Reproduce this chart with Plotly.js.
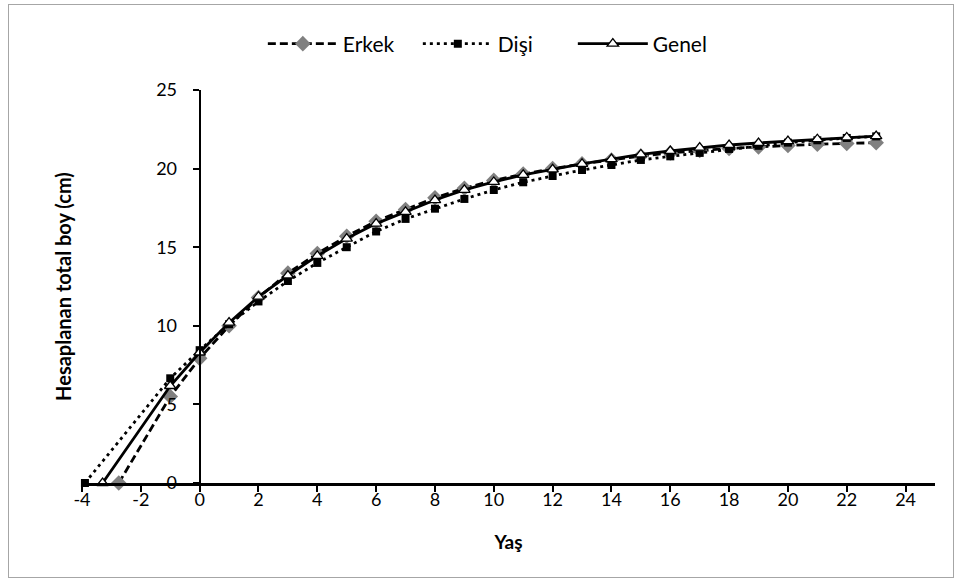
<!DOCTYPE html>
<html>
<head>
<meta charset="utf-8">
<script src="https://cdn.plot.ly/plotly-3.0.1.min.js"></script>
<style>
  html, body { margin: 0; padding: 0; background: #fff; }
  #wrap { position: relative; width: 961px; height: 581px; }
  #chart { position: absolute; left: 0; top: 0; width: 961px; height: 581px; }
  #frame { position: absolute; left: 8px; top: 4px; width: 944px; height: 572px; border: 1px solid #a6a6a6; pointer-events: none; }
</style>
</head>
<body>
<div id="wrap">
  <div id="chart"></div>
  <div id="frame"></div>
</div>
<script>
// Ages (Yaş) and estimated total lengths (cm)
const erkekAge = [-2.75, -1, 0, 1, 2, 3, 4, 5, 6, 7, 8, 9, 10, 11, 12, 13, 14, 15, 16, 17, 18, 19, 20, 21, 22, 23];
const erkekLen = [0, 5.5, 7.93, 10.0, 11.8, 13.35, 14.6, 15.7, 16.65, 17.4, 18.15, 18.75, 19.25, 19.65, 20.0, 20.3, 20.55, 20.8, 21.0, 21.15, 21.28, 21.38, 21.47, 21.55, 21.6, 21.65];

const disiAge = [-3.9, -1, 0, 1, 2, 3, 4, 5, 6, 7, 8, 9, 10, 11, 12, 13, 14, 15, 16, 17, 18, 19, 20, 21, 22, 23];
const disiLen = [0, 6.66, 8.45, 10.1, 11.55, 12.85, 14.0, 15.0, 16.0, 16.8, 17.45, 18.07, 18.64, 19.13, 19.53, 19.91, 20.23, 20.55, 20.78, 21.0, 21.25, 21.45, 21.65, 21.8, 21.95, 22.05];

const genelAge = [-3.3, -1, 0, 1, 2, 3, 4, 5, 6, 7, 8, 9, 10, 11, 12, 13, 14, 15, 16, 17, 18, 19, 20, 21, 22, 23];
const genelLen = [0, 6.17, 8.3, 10.2, 11.85, 13.2, 14.45, 15.55, 16.5, 17.25, 18.0, 18.65, 19.15, 19.6, 19.95, 20.3, 20.6, 20.9, 21.12, 21.33, 21.5, 21.63, 21.75, 21.87, 21.98, 22.07];

const seriesNames = ["Erkek", "Dişi", "Genel"];
const xTitle = "Yaş";
const yTitle = "Hesaplanan total boy (cm)";

const xTickVals = [-4, -2, 0, 2, 4, 6, 8, 10, 12, 14, 16, 18, 20, 22, 24];
const xTickText = ["-4", "-2", "0", "2", "4", "6", "8", "10", "12", "14", "16", "18", "20", "22", "24"];
const yTickVals = [0, 5, 10, 15, 20, 25];
const yTickText = ["0", "5", "10", "15", "20", "25"];

const FONT = "Lato, 'Open Sans', sans-serif";

const traces = [
  {
    x: erkekAge, y: erkekLen, name: seriesNames[0], type: "scatter", mode: "lines+markers",
    line: { color: "#000", width: 2.8, dash: "8px,4px" },
    marker: { symbol: "diamond", size: 12, color: "#808080", line: { width: 0 } },
    cliponaxis: false
  },
  {
    x: disiAge, y: disiLen, name: seriesNames[1], type: "scatter", mode: "lines+markers",
    line: { color: "#000", width: 2.8, dash: "3px,4px" },
    marker: { symbol: "square", size: 8, color: "#000", line: { width: 0 } },
    cliponaxis: false
  },
  {
    x: genelAge, y: genelLen, name: seriesNames[2], type: "scatter", mode: "lines+markers",
    line: { color: "#000", width: 2.8 },
    marker: { symbol: "triangle-up", size: 10, color: "#fff", line: { width: 1.3, color: "#000" } },
    cliponaxis: false
  }
];

const xMin = -4, xMax = 25;

const layout = {
  width: 961, height: 581,
  margin: { l: 82, r: 26, t: 90, b: 98, autoexpand: false },
  paper_bgcolor: "#fff", plot_bgcolor: "#fff",
  font: { family: FONT, size: 18, color: "#000" },
  showlegend: true,
  legend: {
    orientation: "h", x: 0.212, xanchor: "left", y: 1.117, yanchor: "middle",
    font: { family: FONT, size: 21, color: "#000" },
    itemwidth: 70, entrywidth: 70, tracegroupgap: 0, bgcolor: "rgba(0,0,0,0)"
  },
  xaxis: {
    range: [xMin, xMax], tickmode: "array", tickvals: xTickVals, ticktext: xTickText,
    showgrid: false, zeroline: false,
    showline: true, linecolor: "#000", linewidth: 2.5,
    ticks: "outside", ticklen: 6, tickwidth: 2, tickcolor: "#000",
    ticklabelstandoff: -7,
    tickfont: { family: FONT, size: 18, color: "#000" },
    title: { text: "<b>" + xTitle + "</b>", font: { family: FONT, size: 19, color: "#000" }, standoff: 27 }
  },
  yaxis: {
    range: [0, 25], tickmode: "array", tickvals: yTickVals, ticktext: yTickText,
    anchor: "free", position: (0 - xMin) / (xMax - xMin),
    showgrid: false, zeroline: false,
    showline: true, linecolor: "#000", linewidth: 2.5,
    ticks: "outside", ticklen: 6, tickwidth: 2, tickcolor: "#000",
    ticklabelstandoff: 12,
    tickfont: { family: FONT, size: 18, color: "#000" }
  },
  annotations: [
    {
      text: "<b>" + yTitle + "</b>", xref: "paper", yref: "paper",
      x: -0.023, y: 0.5, xanchor: "center", yanchor: "middle", textangle: -90,
      showarrow: false, font: { family: FONT, size: 20, color: "#000" }
    }
  ]
};

Plotly.newPlot("chart", traces, layout, { displayModeBar: false, staticPlot: true });
</script>
</body>
</html>
